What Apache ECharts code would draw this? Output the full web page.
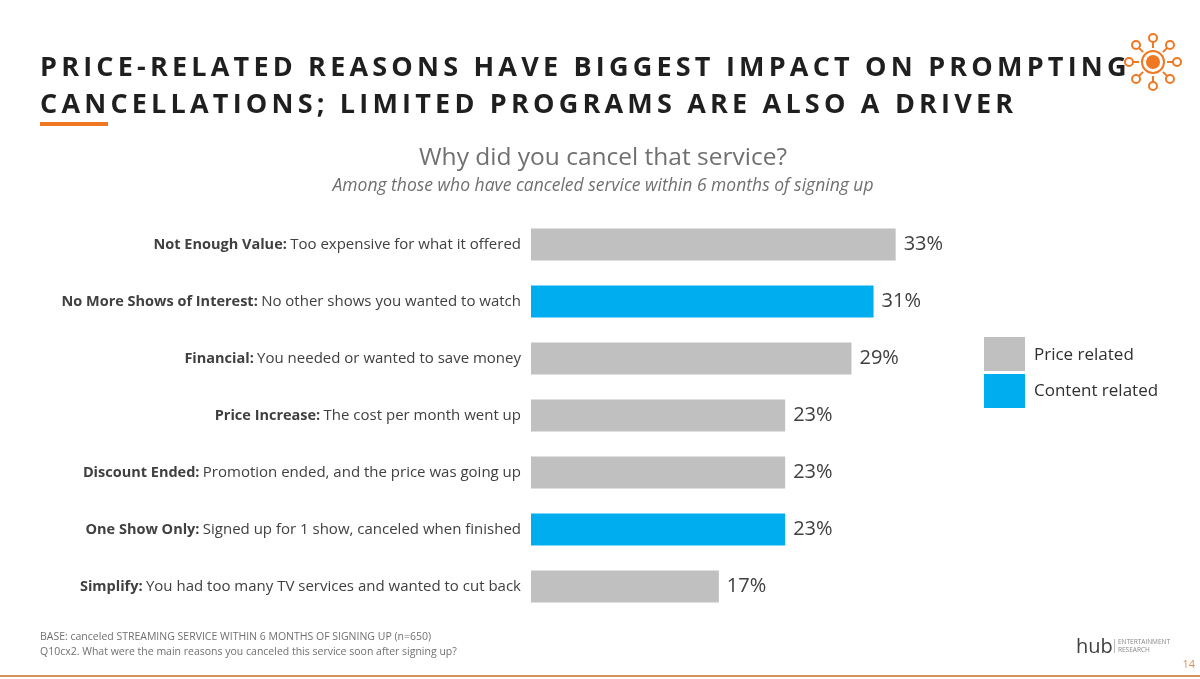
<!DOCTYPE html>
<html><head><meta charset="utf-8">
<script src="https://cdn.jsdelivr.net/npm/echarts@6/dist/echarts.min.js"></script>
<style>
body{margin:0;background:#fff;}
#c{width:1200px;height:679px;position:absolute;left:0;top:0;}
.t{position:absolute;left:40px;font-family:"Open Sans","DejaVu Sans",sans-serif;font-weight:bold;font-size:27px;letter-spacing:4.2px;color:#1f1f1f;white-space:nowrap;}
</style></head><body>
<div id="c"></div>
<div class="t" style="top:47px">PRICE-RELATED REASONS HAVE BIGGEST IMPACT ON PROMPTING</div>
<div class="t" style="top:84px">CANCELLATIONS; LIMITED PROGRAMS ARE ALSO A DRIVER</div>
<script>
const boldLabels = ["Not Enough Value:","No More Shows of Interest:","Financial:","Price Increase:","Discount Ended:","One Show Only:","Simplify:"];
const descLabels = ["Too expensive for what it offered","No other shows you wanted to watch","You needed or wanted to save money","The cost per month went up","Promotion ended, and the price was going up","Signed up for 1 show, canceled when finished","You had too many TV services and wanted to cut back"];
const values = [33,31,29,23,23,23,17];
const groups = ["Price","Content","Price","Price","Price","Content","Price"];
const colors = {Price:"#c0c0c0", Content:"#00aeef"};
const font = '"Open Sans","DejaVu Sans",sans-serif';
const chart = echarts.init(document.getElementById('c'));
const spokes = [];
const cx=1153, cy=62;
for (let i=0;i<8;i++){
  const a = i*Math.PI/4;
  spokes.push({type:'line',shape:{x1:cx+Math.cos(a)*14,y1:cy+Math.sin(a)*14,x2:cx+Math.cos(a)*20,y2:cy+Math.sin(a)*20},style:{stroke:'#f07822',lineWidth:2}});
  spokes.push({type:'circle',shape:{cx:cx+Math.cos(a)*24,cy:cy+Math.sin(a)*24,r:4},style:{fill:'#fff',stroke:'#f07822',lineWidth:2}});
}
chart.setOption({
  animation:false,
  grid:{left:531,top:216,width:442,height:399},
  xAxis:{type:'value',min:0,max:40,show:false},
  yAxis:{type:'category',inverse:true,data:boldLabels.map((b,i)=>i),
    axisLine:{show:false},axisTick:{show:false},
    axisLabel:{margin:10,formatter:(v,i)=>'{b|'+boldLabels[i]+'} {n|'+descLabels[i]+'}',
      rich:{b:{fontWeight:'bold',fontSize:14.5,color:'#404040',fontFamily:font},n:{fontSize:15,color:'#404040',fontFamily:font}}}},
  series:[{type:'bar',barWidth:32,
    data:values.map((v,i)=>({value:v,itemStyle:{color:colors[groups[i]]}})),
    label:{show:true,position:'right',distance:8,formatter:'{c}%',fontSize:20,color:'#404040',fontFamily:font}}],
  graphic:[
    {type:'rect',shape:{x:40,y:122,width:68,height:4},style:{fill:'#f07822'}},
    {type:'text',style:{x:603,y:158,text:'Why did you cancel that service?',align:'center',verticalAlign:'middle',fontSize:24.5,fill:'#707070',fontFamily:font}},
    {type:'text',style:{x:603,y:186,text:'Among those who have canceled service within 6 months of signing up',align:'center',verticalAlign:'middle',fontSize:17.5,fontStyle:'italic',fill:'#707070',fontFamily:font}},
    {type:'rect',shape:{x:984,y:337,width:41,height:34},style:{fill:'#c0c0c0'}},
    {type:'rect',shape:{x:984,y:374,width:41,height:34},style:{fill:'#00aeef'}},
    {type:'text',style:{x:1034,y:355,text:'Price related',verticalAlign:'middle',fontSize:17,fill:'#303030',fontFamily:font}},
    {type:'text',style:{x:1034,y:391,text:'Content related',verticalAlign:'middle',fontSize:17,fill:'#303030',fontFamily:font}},
    {type:'text',style:{x:40,y:637,text:'BASE: canceled STREAMING SERVICE WITHIN 6 MONTHS OF SIGNING UP (n=650)',verticalAlign:'middle',fontSize:10.5,fill:'#707070',fontFamily:font}},
    {type:'text',style:{x:40,y:652,text:'Q10cx2. What were the main reasons you canceled this service soon after signing up?',verticalAlign:'middle',fontSize:10.5,fill:'#707070',fontFamily:font}},
    {type:'text',style:{x:1076,y:647,text:'hub',verticalAlign:'middle',fontSize:20,fill:'#404040',fontFamily:font}},
    {type:'rect',shape:{x:1114,y:639,width:1,height:14},style:{fill:'#bbb'}},
    {type:'text',style:{x:1118,y:642,text:'ENTERTAINMENT',verticalAlign:'middle',fontSize:6.5,fill:'#888',fontFamily:font}},
    {type:'text',style:{x:1118,y:650,text:'RESEARCH',verticalAlign:'middle',fontSize:6.5,fill:'#888',fontFamily:font}},
    {type:'text',style:{x:1195,y:665,text:'14',align:'right',verticalAlign:'middle',fontSize:11,fill:'#d9925c',fontFamily:font}},
    {type:'rect',shape:{x:0,y:675,width:1200,height:2},style:{fill:'#d9925c'}},
    {type:'circle',shape:{cx:cx,cy:cy,r:11},style:{fill:'#fff',stroke:'#f07822',lineWidth:2}},
    {type:'circle',shape:{cx:cx,cy:cy,r:7},style:{fill:'#f07822'}},
    ...spokes
  ]
});
</script></body></html>
